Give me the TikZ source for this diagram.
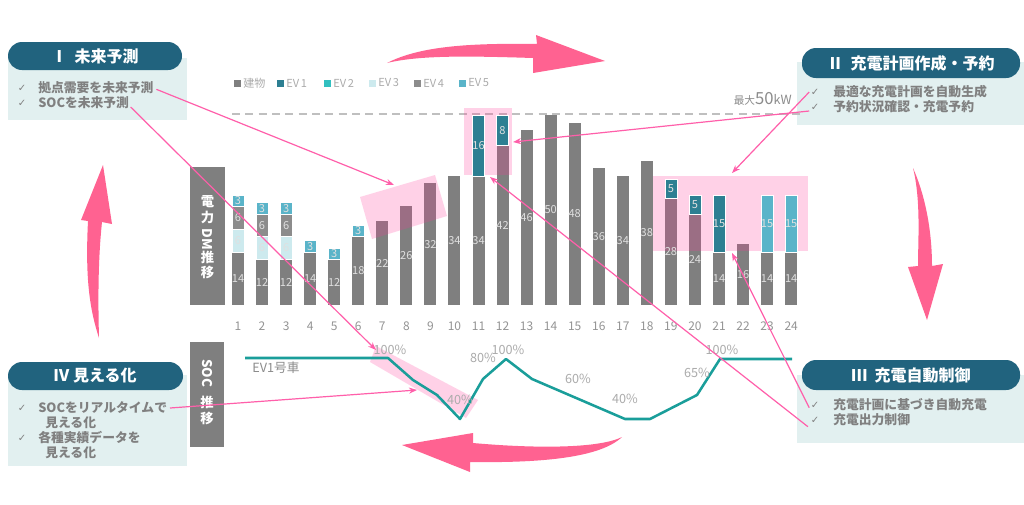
\documentclass[tikz,border=0pt]{standalone}
\usepackage{fontspec}
\setmainfont{Noto Sans CJK JP}
\newfontfamily\symf{DejaVu Sans}
\usetikzlibrary{arrows.meta}
\definecolor{hdrc}{RGB}{33,99,126}
\definecolor{bgc}{RGB}{226,240,240}
\definecolor{txtg}{RGB}{128,128,128}
\definecolor{bgray}{RGB}{127,127,127}
\definecolor{ev1}{RGB}{45,127,146}
\definecolor{ev2}{RGB}{50,192,192}
\definecolor{ev3}{RGB}{205,234,238}
\definecolor{ev4}{RGB}{140,140,140}
\definecolor{ev5}{RGB}{90,180,201}
\definecolor{socc}{RGB}{26,158,154}
\definecolor{pinkl}{RGB}{255,95,170}
\definecolor{hlpink}{RGB}{255,50,150}
\definecolor{bigpink}{RGB}{255,98,145}
\begin{document}
\begin{tikzpicture}[x=0.75pt,y=-0.75pt,
  hdr/.style={fill=hdrc, rounded corners=10.5pt},
  bgbox/.style={fill=bgc},
  hdrtxt/.style={text=white, font=\fontsize{12}{14}\selectfont\bfseries, inner sep=0},
  bul/.style={text=txtg, font=\fontsize{9.6}{12}\selectfont\bfseries, anchor=west, inner sep=0},
  chk/.style={text=txtg, font=\symf\fontsize{7.5}{9}\selectfont, inner sep=0},
  vlab/.style={text=white!88!black, font=\fontsize{8.3}{10}\selectfont, inner sep=0},
  axn/.style={text=black!42, font=\fontsize{9}{10}\selectfont, inner sep=0},
  pct/.style={text=black!33, font=\fontsize{9.5}{11}\selectfont, inner sep=0},
  leg/.style={text=black!33, font=\fontsize{8.3}{10}\selectfont, inner sep=0, anchor=west},
  vtxt/.style={text=white, font=\fontsize{10}{12}\selectfont\bfseries, inner sep=0},
  parr/.style={draw=pinkl, line width=0.9pt, -{Stealth[length=6pt,width=4.5pt]}},
  hl/.style={fill=hlpink, fill opacity=0.22},
  bigarr/.style={fill=bigpink}]
\useasboundingbox (0,0) rectangle (1024,504);
\fill[white] (0,0) rectangle (1024,504);

% ---- boxes
\fill[bgbox] (8,58) rectangle (187,120);
\fill[hdr] (8,42) rectangle (182,70);
\node[hdrtxt] (h1) at (95,56) {Ⅰ\ \ 未来予測};
\node[chk] (c1a) at (22,88) {✓};
\node[bul] (b1a) at (38,88) {拠点需要を未来予測};
\node[chk] (c1b) at (22,103) {✓};
\node[bul] (b1b) at (38,103) {SOCを未来予測};

\fill[bgbox] (797,62) rectangle (1024,125);
\fill[hdr] (802,48) rectangle (1020,78);
\node[hdrtxt] (h2) at (911,63) {Ⅱ\ \ 充電計画作成・予約};
\node[chk] (c2a) at (815,92) {✓};
\node[bul] (b2a) at (833,92) {最適な充電計画を自動生成};
\node[chk] (c2b) at (815,107) {✓};
\node[bul] (b2b) at (833,107) {予約状況確認・充電予約};

\fill[bgbox] (8,375) rectangle (187,466);
\fill[hdr] (8,362) rectangle (183,390);
\node[hdrtxt] (h4) at (95,376) {Ⅳ\ 見える化};
\node[chk] (c4a) at (22,408) {✓};
\node[bul] (b4a) at (38,408) {SOCをリアルタイムで};
\node[bul] (b4b) at (45,423) {見える化};
\node[chk] (c4c) at (22,438) {✓};
\node[bul] (b4c) at (38,438) {各種実績データを};
\node[bul] (b4d) at (45,453) {見える化};

\fill[bgbox] (797,375) rectangle (1024,443);
\fill[hdr] (802,360) rectangle (1020,390);
\node[hdrtxt] (h3) at (911,375) {Ⅲ\ \ 充電自動制御};
\node[chk] (c3a) at (815,405) {✓};
\node[bul] (b3a) at (833,405) {充電計画に基づき自動充電};
\node[chk] (c3b) at (815,420) {✓};
\node[bul] (b3b) at (833,420) {充電出力制御};

% ---- legend
\foreach \x/\c/\t in {237/bgray/建物, 280/ev1/EV\,1, 327/ev2/EV\,2, 372/ev3/EV\,3, 417/ev4/EV\,4, 462/ev5/EV\,5}{
  \fill[\c] (\x-3.5,79.5) rectangle (\x+3.5,86.5);
  \node[leg] at (\x+6,83) {\t};
}

% ---- max line
\draw[black!25, line width=1.1pt, dash pattern=on 6pt off 4pt] (232,114) -- (800,114);
\node[anchor=east, text=black!45, inner sep=0] (mx) at (792,99) {{\fontsize{8}{9}\selectfont 最大}{\fontsize{12.5}{14}\selectfont 50}{\fontsize{9.5}{11}\selectfont kW}};

% ---- vertical labels
\fill[bgray] (190,167) rectangle (225,305);
\node[vtxt] (v1) at (207.5,202) {電};
\node[vtxt] (v2) at (207.5,217) {力};
\node[vtxt, rotate=-90] (v3) at (207.5,239) {DM};
\node[vtxt] (v4) at (207.5,257) {推};
\node[vtxt] (v5) at (207.5,272) {移};

\fill[bgray] (190,342) rectangle (224,447);
\node[vtxt, rotate=-90] (s1) at (207,373) {SOC};
\node[vtxt] (s2) at (207,402) {推};
\node[vtxt] (s3) at (207,418) {移};

% ---- building bars
\foreach \n/\v in {1/14,2/12,3/12,4/14,5/12,6/18,7/22,8/26,9/32,10/34,11/34,12/42,13/46,14/50,15/48,16/36,17/34,18/38,19/28,20/24,21/14,22/16,23/14,24/14}{
  \pgfmathsetmacro\xc{238+(\n-1)*24.05}
  \fill[bgray] (\xc-6,305) rectangle (\xc+6,{305-\v*3.8});
  \node[axn] at (\xc,326) {\n};
}

% ---- highlight boxes
\fill[hl] (360,197) -- (435,175) -- (447,216) -- (372,239) -- cycle;
\fill[hl] (464,108) rectangle (512,175);
\fill[hl] (653,176) rectangle (808,251);

% ---- EV segments
\foreach \n/\b/\h/\c in {1/14/6/ev3,1/20/6/ev4,1/26/3/ev5,2/12/6/ev3,2/18/6/ev4,2/24/3/ev5,3/12/6/ev3,3/18/6/ev4,3/24/3/ev5,4/14/3/ev5,5/12/3/ev5,6/18/3/ev5,11/34/16/ev1,12/42/8/ev1,19/28/5/ev1,20/24/5/ev1,21/14/15/ev1,23/14/15/ev5,24/14/15/ev5}{
  \pgfmathsetmacro\xc{238+(\n-1)*24.05}
  \fill[\c, draw=white, line width=0.4pt] (\xc-6,{305-\b*3.8}) rectangle (\xc+6,{305-(\b+\h)*3.8});
  \node[vlab] at (\xc,{305-(\b+\h/2)*3.8}) {\h};
}
\foreach \n/\v in {1/14,2/12,3/12,4/14,5/12,6/18,7/22,8/26,9/32,10/34,11/34,12/42,13/46,14/50,15/48,16/36,17/34,18/38,19/28,20/24,21/14,22/16,23/14,24/14}{
  \pgfmathsetmacro\xc{238+(\n-1)*24.05}
  \node[vlab] at (\xc,{305-\v*1.9}) {\v};
}

% ---- SOC
\fill[hl] (376,346) -- (478,400) -- (466,418) -- (370,362) -- cycle;
\draw[socc, line width=1.9pt, line join=round] (245,358) -- (388,358) -- (413,380) -- (437,395) -- (460,419) -- (483,379) -- (506,359) -- (532,379) -- (625,419) -- (650,419) -- (697,395) -- (720,359) -- (792,359);
\node[pct, text=black!45] (ev) at (276,368) {EV1号車};
\node[pct] (p1) at (390,350) {100\%};
\node[pct] (p2) at (460,400) {40\%};
\node[pct] (p3) at (483,358) {80\%};
\node[pct] (p4) at (508,350) {100\%};
\node[pct] (p5) at (578,379) {60\%};
\node[pct] (p6) at (625,399) {40\%};
\node[pct] (p7) at (697,373) {65\%};
\node[pct] (p8) at (722,350) {100\%};

% ---- pink connectors
\coordinate (t1) at (394,185);
\coordinate (t2) at (376,350);
\coordinate (t3) at (732,173);
\coordinate (t4) at (513,142);
\coordinate (t5) at (732,253);
\coordinate (t6) at (490,177);
\coordinate (t7) at (417,390);
\draw[parr] ([xshift=2pt,yshift=-1pt]b1a.east) -- (t1);
\draw[parr] ([xshift=1pt,yshift=-3pt]b1b.east) -- (t2);
\draw[parr] ([xshift=-1pt]c2a.west) -- (t3);
\draw[parr] ([xshift=-1pt,yshift=-3pt]c2b.west) -- (t4);
\draw[parr] ([xshift=-1pt,yshift=-2pt]c3a.west) -- (t5);
\draw[parr] ([xshift=-2pt,yshift=-5pt]c3b.west) -- (t6);
\draw[parr] ([xshift=2pt]b4a.east) -- (t7);

% ---- big cycle arrows
\fill[bigarr] (387,63) .. controls (420,46) and (470,43) .. (537,44) -- (536,35) -- (605,61) -- (533,73) -- (533,58) .. controls (470,56) and (420,55) .. (387,63) -- cycle;
\fill[bigarr] (622,437) .. controls (600,458) and (540,463) .. (470,462) -- (470,472) -- (402,445) -- (473,433) -- (473,443) .. controls (540,449) and (600,448) .. (622,437) -- cycle;
\fill[bigarr] (103,165) -- (112,224) -- (102,222) .. controls (98,260) and (98,300) .. (99,338) .. controls (90,310) and (85,280) .. (88,221) -- (81,220) -- cycle;
\fill[bigarr] (913,168) .. controls (925,195) and (932,230) .. (932,266) -- (943,264) -- (927,320) -- (908,267) -- (918,266) .. controls (918,240) and (921,200) .. (913,168) -- cycle;
\end{tikzpicture}
\end{document}
